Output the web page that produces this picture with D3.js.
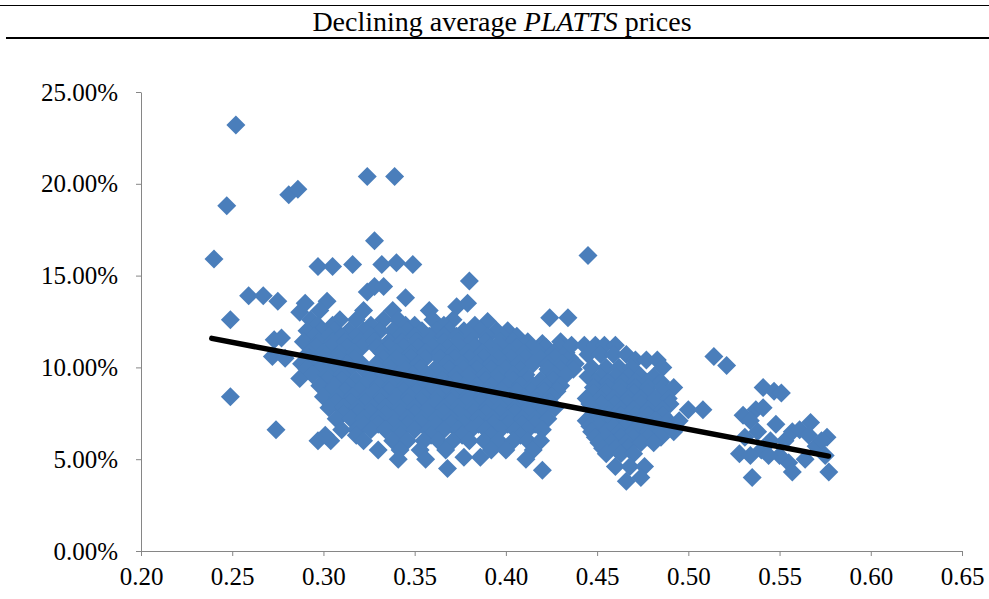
<!DOCTYPE html>
<html>
<head>
<meta charset="utf-8">
<script src="https://cdn.jsdelivr.net/npm/d3@7"></script>
<style>
  body { margin: 0; background: #fff; }
  text { font-family: "Liberation Serif", "Times New Roman", serif; }
</style>
</head>
<body>
<div id="wrapper"></div>
<script>
// x = ratio, y = average price change in percent
const xTicks = [0.20, 0.25, 0.30, 0.35, 0.40, 0.45, 0.50, 0.55, 0.60, 0.65]
const yTicks = [0, 5, 10, 15, 20, 25]

const outliers = [
  [0.252, 23.2], [0.247, 18.8], [0.240, 15.9], [0.249, 12.6], [0.249, 8.4],
  [0.259, 13.9], [0.267, 13.9], [0.275, 13.6], [0.281, 19.4], [0.286, 19.7],
  [0.274, 6.6], [0.273, 11.5], [0.277, 11.6], [0.272, 10.6], [0.279, 10.5],
  [0.287, 9.4], [0.297, 15.5], [0.305, 15.5], [0.324, 20.4], [0.339, 20.4],
  [0.328, 16.9], [0.316, 15.6], [0.332, 15.6], [0.340, 15.7], [0.349, 15.6],
  [0.380, 14.7], [0.373, 13.3], [0.379, 13.5], [0.368, 4.5], [0.377, 5.1],
  [0.386, 5.1], [0.445, 16.1], [0.424, 12.7], [0.434, 12.7], [0.420, 4.4],
  [0.390, 12.5], [0.420, 11.3], [0.514, 10.6], [0.521, 10.1],
  [0.324, 14.1], [0.328, 14.4], [0.333, 14.4], [0.345, 13.8],
  [0.290, 13.5], [0.302, 13.6], [0.287, 13.0]
]

// dense group, 0.29 - 0.44
const mainRows = [
  [13.1, [0.298, 0.322, 0.338, 0.358]],
  [12.6, [0.293, 0.309, 0.318, 0.333, 0.341, 0.360, 0.371]],
  [12.3, [0.297, 0.305, 0.326, 0.345, 0.350, 0.366, 0.383]],
  [12.0, [0.291, 0.299, 0.306, 0.314, 0.322, 0.331, 0.338, 0.346, 0.354, 0.362, 0.369, 0.377, 0.386, 0.395, 0.401]],
  [11.7, [0.295, 0.303, 0.310, 0.318, 0.326, 0.342, 0.350, 0.358, 0.366, 0.373, 0.381, 0.390, 0.398, 0.406]],
  [11.4, [0.289, 0.297, 0.305, 0.312, 0.320, 0.328, 0.336, 0.343, 0.351, 0.358, 0.366, 0.374, 0.381, 0.389, 0.397, 0.404, 0.412, 0.430]],
  [11.1, [0.296, 0.304, 0.313, 0.321, 0.329, 0.336, 0.344, 0.352, 0.360, 0.368, 0.375, 0.383, 0.391, 0.398, 0.406, 0.414, 0.422, 0.430]],
  [10.8, [0.292, 0.300, 0.309, 0.317, 0.332, 0.340, 0.348, 0.356, 0.364, 0.371, 0.379, 0.387, 0.395, 0.402, 0.410, 0.418, 0.426, 0.433]],
  [10.5, [0.292, 0.300, 0.308, 0.317, 0.333, 0.340, 0.348, 0.356, 0.364, 0.372, 0.380, 0.388, 0.396, 0.403, 0.411, 0.419, 0.427, 0.435]],
  [10.2, [0.288, 0.296, 0.304, 0.313, 0.321, 0.329, 0.337, 0.344, 0.352, 0.368, 0.376, 0.384, 0.392, 0.399, 0.407, 0.415, 0.423, 0.431, 0.438]],
  [9.9, [0.291, 0.298, 0.306, 0.314, 0.322, 0.330, 0.337, 0.345, 0.353, 0.361, 0.369, 0.377, 0.384, 0.392, 0.400, 0.408, 0.423, 0.430, 0.437]],
  [9.6, [0.294, 0.302, 0.310, 0.326, 0.333, 0.341, 0.349, 0.357, 0.365, 0.373, 0.380, 0.388, 0.396, 0.404, 0.411, 0.427, 0.433]],
  [9.3, [0.302, 0.310, 0.318, 0.326, 0.334, 0.341, 0.349, 0.357, 0.365, 0.373, 0.381, 0.389, 0.396, 0.404, 0.412, 0.419, 0.426]],
  [9.0, [0.298, 0.306, 0.314, 0.322, 0.330, 0.337, 0.345, 0.353, 0.361, 0.369, 0.377, 0.384, 0.392, 0.400, 0.408, 0.415, 0.422, 0.430]],
  [8.7, [0.304, 0.312, 0.320, 0.328, 0.336, 0.344, 0.351, 0.359, 0.367, 0.375, 0.383, 0.391, 0.398, 0.406, 0.414, 0.421, 0.428]],
  [8.4, [0.300, 0.308, 0.316, 0.324, 0.332, 0.340, 0.347, 0.355, 0.363, 0.371, 0.379, 0.387, 0.394, 0.402, 0.410, 0.417, 0.425]],
  [8.1, [0.307, 0.315, 0.323, 0.331, 0.338, 0.346, 0.354, 0.362, 0.370, 0.378, 0.386, 0.394, 0.401, 0.409, 0.417, 0.424]],
  [7.8, [0.303, 0.311, 0.319, 0.327, 0.334, 0.342, 0.350, 0.358, 0.366, 0.374, 0.382, 0.390, 0.397, 0.405, 0.413, 0.421, 0.427]],
  [7.5, [0.311, 0.319, 0.326, 0.334, 0.342, 0.350, 0.358, 0.366, 0.374, 0.382, 0.389, 0.397, 0.405, 0.413, 0.420]],
  [7.2, [0.307, 0.315, 0.322, 0.330, 0.338, 0.346, 0.354, 0.362, 0.370, 0.378, 0.385, 0.393, 0.401, 0.409, 0.416, 0.423]],
  [6.9, [0.322, 0.330, 0.338, 0.346, 0.354, 0.362, 0.370, 0.377, 0.385, 0.393, 0.401, 0.409, 0.416]],
  [6.6, [0.310, 0.318, 0.326, 0.334, 0.342, 0.350, 0.358, 0.366, 0.374, 0.381, 0.389, 0.397, 0.405, 0.412, 0.420]],
  [6.3, [0.301, 0.318, 0.342, 0.359, 0.376, 0.392, 0.408]],
  [6.0, [0.297, 0.304, 0.322, 0.338, 0.346, 0.355, 0.363, 0.371, 0.380, 0.388, 0.396, 0.404, 0.412, 0.419]],
  [5.5, [0.330, 0.342, 0.353, 0.367, 0.392, 0.400, 0.415]],
  [5.0, [0.341, 0.356, 0.411]]
]

// middle group, 0.44 - 0.51
const midRows = [
  [11.2, [0.436, 0.443, 0.449, 0.454, 0.460]],
  [10.7, [0.445, 0.452, 0.459, 0.466]],
  [10.4, [0.471, 0.477, 0.483]],
  [10.0, [0.447, 0.455, 0.462, 0.469, 0.486]],
  [9.5, [0.445, 0.452, 0.460, 0.467, 0.474, 0.481]],
  [9.2, [0.449, 0.456, 0.464, 0.471, 0.478, 0.485]],
  [8.9, [0.448, 0.456, 0.463, 0.471, 0.478, 0.486, 0.492]],
  [8.6, [0.448, 0.455, 0.463, 0.470, 0.478, 0.486]],
  [8.3, [0.444, 0.452, 0.459, 0.467, 0.474, 0.482, 0.489]],
  [8.0, [0.446, 0.452, 0.460, 0.467, 0.474, 0.482, 0.490]],
  [7.7, [0.448, 0.456, 0.463, 0.470, 0.478, 0.486, 0.500, 0.508]],
  [7.4, [0.448, 0.456, 0.463, 0.471, 0.478, 0.486]],
  [7.1, [0.444, 0.452, 0.459, 0.467, 0.474, 0.482, 0.489, 0.495]],
  [6.8, [0.446, 0.451, 0.459, 0.466, 0.474, 0.481, 0.489]],
  [6.5, [0.447, 0.455, 0.462, 0.470, 0.478, 0.485, 0.492]],
  [6.2, [0.449, 0.455, 0.463, 0.470, 0.478, 0.485]],
  [5.9, [0.451, 0.458, 0.466, 0.474, 0.481]],
  [5.6, [0.453, 0.460, 0.467]],
  [5.3, [0.455, 0.463, 0.470]],
  [4.6, [0.460, 0.468, 0.476]],
  [4.0, [0.474]],
  [3.8, [0.466]]
]

// right group, 0.53 - 0.58
const rightGroup = [
  [0.541, 8.9], [0.547, 8.7], [0.551, 8.6], [0.530, 7.4], [0.537, 7.7],
  [0.541, 7.8], [0.534, 7.1], [0.531, 6.2], [0.538, 6.5], [0.545, 6.0],
  [0.540, 5.5], [0.528, 5.3], [0.534, 5.2], [0.535, 4.0], [0.548, 6.9],
  [0.553, 6.0], [0.557, 6.5], [0.561, 6.6], [0.567, 7.0], [0.576, 6.2],
  [0.570, 5.7], [0.575, 5.2], [0.555, 4.8], [0.557, 4.3], [0.577, 4.3],
  [0.564, 5.0], [0.550, 5.2], [0.544, 5.2], [0.573, 6.0], [0.566, 6.3]
]

const trendX = [0.2388, 0.5768]
const trendY = [11.58, 5.17]

async function drawScatter() {
  const dataset = []
  outliers.forEach(d => dataset.push(d))
  mainRows.concat(midRows).forEach(([y, xs]) => xs.forEach(x => dataset.push([x, y])))
  rightGroup.forEach(d => dataset.push(d))

  const xAccessor = d => d[0]
  const yAccessor = d => d[1]

  let dimensions = {
    width: 989,
    height: 599,
    margin: {
      top: 92,
      right: 27,
      bottom: 48,
      left: 141,
    },
  }
  dimensions.boundedWidth = dimensions.width
    - dimensions.margin.left
    - dimensions.margin.right
  dimensions.boundedHeight = dimensions.height
    - dimensions.margin.top
    - dimensions.margin.bottom

  const wrapper = d3.select("#wrapper")
    .append("svg")
      .attr("width", dimensions.width)
      .attr("height", dimensions.height)

  // title with rules above and below
  wrapper.append("line")
    .attr("x1", 0).attr("x2", dimensions.width)
    .attr("y1", 5.5).attr("y2", 5.5)
    .attr("stroke", "#000").attr("stroke-width", 1)
  wrapper.append("line")
    .attr("x1", 6).attr("x2", dimensions.width)
    .attr("y1", 38).attr("y2", 38)
    .attr("stroke", "#000").attr("stroke-width", 2)
  const title = wrapper.append("text")
    .attr("x", 502)
    .attr("y", 31)
    .attr("text-anchor", "middle")
    .style("font-size", "28px")
  title.append("tspan").text("Declining average ")
  title.append("tspan").style("font-style", "italic").text("PLATTS")
  title.append("tspan").text(" prices")

  const bounds = wrapper.append("g")
    .attr("transform", `translate(${dimensions.margin.left}, ${dimensions.margin.top})`)

  const xScaler = d3.scaleLinear()
    .domain([0.20, 0.65])
    .range([0, dimensions.boundedWidth])

  const yScaler = d3.scaleLinear()
    .domain([0, 25])
    .range([dimensions.boundedHeight, 0])

  // axes
  const xAxis = d3.axisBottom(xScaler)
    .tickValues(xTicks)
    .tickFormat(d3.format(".2f"))
    .tickSize(5)
    .tickSizeOuter(0)
    .tickPadding(11)
  const yAxis = d3.axisLeft(yScaler)
    .tickValues(yTicks)
    .tickFormat(d => d.toFixed(2) + "%")
    .tickSize(5)
    .tickSizeOuter(0)
    .tickPadding(18)

  const xAxisGroup = bounds.append("g")
    .attr("transform", `translate(0, ${dimensions.boundedHeight})`)
    .call(xAxis)
  const yAxisGroup = bounds.append("g").call(yAxis)

  ;[xAxisGroup, yAxisGroup].forEach(g => {
    g.select(".domain").attr("stroke", "#868686")
    g.selectAll(".tick line").attr("stroke", "#868686")
    g.selectAll(".tick text")
      .attr("fill", "#000")
      .style("font-family", "'Liberation Serif', serif")
      .style("font-size", "25px")
  })

  // points
  const r = 9.5
  bounds.append("g")
    .selectAll("path")
    .data(dataset)
    .join("path")
      .attr("d", `M0,${-r}L${r},0L0,${r}L${-r},0Z`)
      .attr("transform", d => `translate(${xScaler(xAccessor(d))}, ${yScaler(yAccessor(d))})`)
      .attr("fill", "#4a7ebb")

  // trend line
  const lineGenerator = d3.line()
    .x(d => xScaler(d[0]))
    .y(d => yScaler(d[1]))
  bounds.append("path")
    .datum(trendX.map((x, i) => [x, trendY[i]]))
    .attr("d", lineGenerator)
    .attr("fill", "none")
    .attr("stroke", "#000")
    .attr("stroke-width", 5.5)
    .attr("stroke-linecap", "round")
}

drawScatter()
</script>
</body>
</html>
